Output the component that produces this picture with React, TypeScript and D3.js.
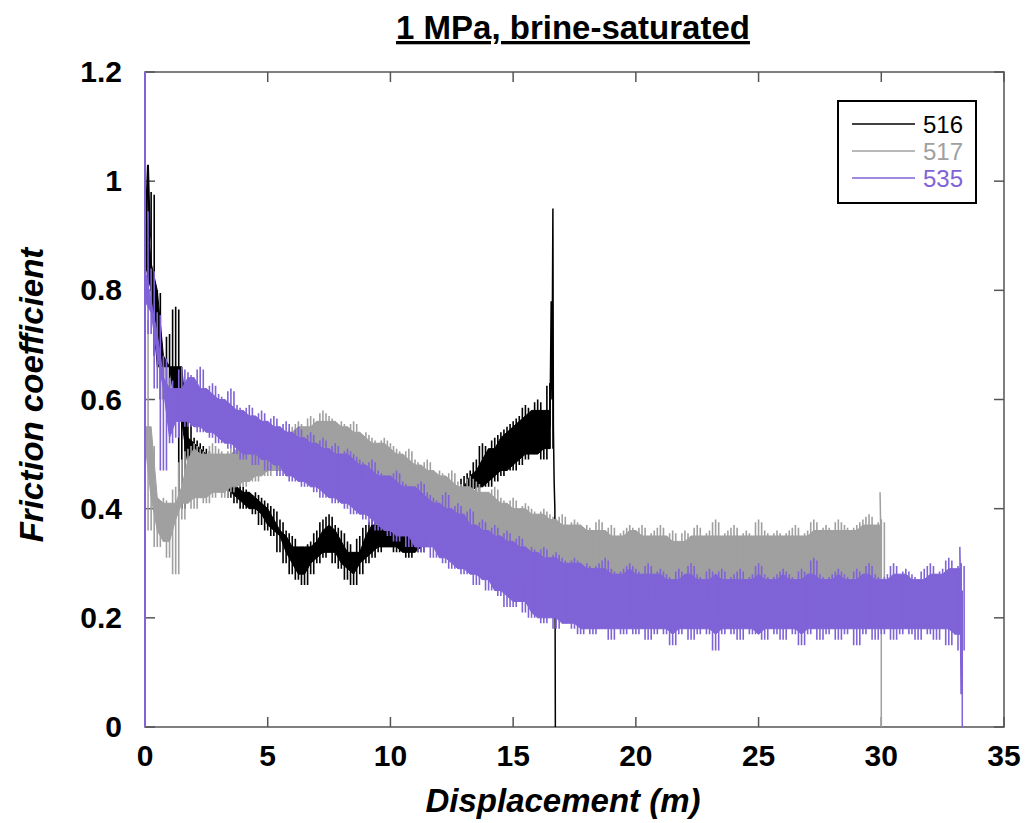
import React from "react";
import * as d3 from "d3";

// Sampling grid step (m) for the envelope arrays below
const STEP = 0.25;

const xTicks = [0, 5, 10, 15, 20, 25, 30, 35];
const yTicks = [0, 0.2, 0.4, 0.6, 0.8, 1, 1.2];
const yTickLabels = ["0", "0.2", "0.4", "0.6", "0.8", "1", "1.2"];

// ---- Sample 516 (black): upper / lower envelope every 0.25 m, 0 .. 16.5 m
const s516Hi = [
  0.97, 0.98, 0.8, 0.66, 0.72, 0.77, 0.58, 0.56,
  0.53, 0.52, 0.51, 0.5, 0.47, 0.46, 0.45, 0.45,
  0.44, 0.43, 0.43, 0.42, 0.41, 0.4, 0.38, 0.36,
  0.35, 0.33, 0.33, 0.34, 0.36, 0.38, 0.39, 0.37,
  0.36, 0.34, 0.32, 0.35, 0.37, 0.38, 0.38, 0.37,
  0.37, 0.36, 0.35, 0.35, 0.35, 0.36, 0.36, 0.37,
  0.38, 0.4, 0.42, 0.44, 0.46, 0.47, 0.49, 0.52,
  0.51, 0.53, 0.54, 0.55, 0.56, 0.57, 0.59, 0.58,
  0.6, 0.58, 0.63,
];
const s516Lo = [
  0.85, 0.8, 0.68, 0.6, 0.62, 0.66, 0.4, 0.48,
  0.46, 0.47, 0.47, 0.46, 0.44, 0.43, 0.42, 0.41,
  0.4, 0.4, 0.39, 0.37, 0.36, 0.35, 0.32, 0.3,
  0.28, 0.27, 0.26, 0.28, 0.3, 0.31, 0.32, 0.3,
  0.29, 0.27, 0.26, 0.28, 0.3, 0.31, 0.32, 0.33,
  0.33, 0.32, 0.32, 0.31, 0.32, 0.32, 0.33, 0.34,
  0.35, 0.36, 0.38, 0.4, 0.41, 0.42, 0.43, 0.44,
  0.44, 0.45, 0.46, 0.47, 0.47, 0.48, 0.49, 0.5,
  0.5, 0.49, 0.51,
];
const s516HeadX = [0.0, 0.12, 0.2];
const s516HeadY = [0.88, 1.03, 0.9];
const s516TailX = [16.5, 16.55, 16.58, 16.62, 16.64, 16.67, 16.7, 16.72];
const s516TailY = [0.55, 0.78, 0.6, 0.95, 0.55, 0.45, 0.4, 0.0];

// ---- Sample 517 (grey): 0 .. 30 m
const s517Hi = [
  0.75, 0.52, 0.42, 0.42, 0.41, 0.44, 0.49, 0.51,
  0.52, 0.51, 0.5, 0.52, 0.51, 0.5, 0.51, 0.52,
  0.51, 0.52, 0.53, 0.52, 0.54, 0.53, 0.55, 0.54,
  0.55, 0.56, 0.55, 0.57, 0.56, 0.58, 0.57, 0.56,
  0.56, 0.55, 0.56, 0.54, 0.54, 0.53, 0.52, 0.53,
  0.52, 0.51, 0.5, 0.51, 0.49, 0.48, 0.49, 0.47,
  0.47, 0.46, 0.47, 0.45, 0.44, 0.46, 0.45, 0.43,
  0.43, 0.44, 0.42, 0.41, 0.42, 0.4, 0.41, 0.4,
  0.39, 0.4, 0.39, 0.38, 0.39, 0.37, 0.38, 0.37,
  0.37, 0.36, 0.38, 0.36, 0.37, 0.35, 0.36, 0.37,
  0.36, 0.37, 0.35, 0.36, 0.37, 0.35, 0.36, 0.34,
  0.36, 0.35, 0.37, 0.35, 0.36, 0.38, 0.35, 0.36,
  0.37, 0.35, 0.36, 0.35, 0.38, 0.36, 0.35, 0.36,
  0.35, 0.36, 0.37, 0.35, 0.36, 0.38, 0.36, 0.37,
  0.36, 0.38, 0.37, 0.36, 0.37, 0.38, 0.39, 0.37,
  0.38,
];
const s517Lo = [
  0.55, 0.36, 0.33, 0.34, 0.31, 0.28, 0.38, 0.41,
  0.4, 0.42, 0.41, 0.42, 0.43, 0.42, 0.43, 0.44,
  0.44, 0.45, 0.45, 0.46, 0.46, 0.47, 0.47, 0.47,
  0.47, 0.48, 0.48, 0.48, 0.47, 0.48, 0.47, 0.47,
  0.46, 0.46, 0.45, 0.45, 0.44, 0.44, 0.43, 0.42,
  0.42, 0.41, 0.4, 0.4, 0.39, 0.38, 0.38, 0.37,
  0.36, 0.36, 0.35, 0.35, 0.34, 0.33, 0.33, 0.33,
  0.32, 0.32, 0.31, 0.31, 0.31, 0.3, 0.3, 0.3,
  0.29, 0.3, 0.29, 0.28, 0.29, 0.28, 0.28, 0.27,
  0.28, 0.27, 0.27, 0.28, 0.27, 0.26, 0.27, 0.27,
  0.27, 0.26, 0.27, 0.27, 0.26, 0.27, 0.26, 0.27,
  0.26, 0.27, 0.26, 0.27, 0.25, 0.27, 0.26, 0.26,
  0.27, 0.26, 0.26, 0.27, 0.26, 0.25, 0.27, 0.26,
  0.26, 0.27, 0.26, 0.26, 0.27, 0.26, 0.25, 0.27,
  0.26, 0.27, 0.26, 0.27, 0.26, 0.27, 0.26, 0.27,
  0.27,
];
const s517HeadX = [0.0];
const s517HeadY = [0.75];
const s517TailX = [30.0, 29.95, 30.0, 30.0];
const s517TailY = [0.3, 0.43, 0.3, 0.0];

// ---- Sample 535 (purple): 0 .. 33.25 m
const s535Hi = [
  0.95, 0.84, 0.76, 0.68, 0.64, 0.62, 0.66, 0.65,
  0.64, 0.66, 0.62, 0.63, 0.61, 0.6, 0.62, 0.59,
  0.58, 0.59, 0.57, 0.58, 0.56, 0.57, 0.55, 0.56,
  0.54, 0.55, 0.53, 0.54, 0.52, 0.53, 0.51, 0.52,
  0.5, 0.51, 0.5, 0.49, 0.48, 0.49, 0.47, 0.46,
  0.46, 0.47, 0.45, 0.44, 0.44, 0.45, 0.43, 0.42,
  0.41, 0.43, 0.4, 0.41, 0.39, 0.4, 0.37, 0.38,
  0.36, 0.37, 0.35, 0.36, 0.34, 0.35, 0.33, 0.33,
  0.32, 0.33, 0.31, 0.32, 0.31, 0.3, 0.31, 0.3,
  0.3, 0.29, 0.3, 0.31, 0.29, 0.28, 0.29, 0.3,
  0.29, 0.28, 0.3, 0.28, 0.29, 0.28, 0.27, 0.29,
  0.28, 0.3, 0.28, 0.27, 0.29, 0.28, 0.29, 0.27,
  0.28, 0.29, 0.27, 0.28, 0.3, 0.28, 0.27, 0.28,
  0.29, 0.28, 0.27, 0.29, 0.28, 0.31, 0.28, 0.27,
  0.28, 0.29, 0.28, 0.27, 0.29, 0.28, 0.3, 0.28,
  0.27, 0.28, 0.3, 0.28, 0.29, 0.28, 0.27, 0.29,
  0.3, 0.28, 0.29, 0.31, 0.29, 0.3,
];
const s535Lo = [
  0.78, 0.72, 0.62, 0.47, 0.52, 0.53, 0.56, 0.55,
  0.55, 0.54, 0.54, 0.53, 0.52, 0.52, 0.51, 0.5,
  0.49, 0.5, 0.48, 0.49, 0.47, 0.48, 0.46, 0.46,
  0.45, 0.45, 0.44, 0.44, 0.43, 0.42, 0.42, 0.41,
  0.41, 0.4, 0.39, 0.39, 0.38, 0.37, 0.36, 0.36,
  0.35, 0.34, 0.35, 0.33, 0.33, 0.32, 0.33, 0.31,
  0.31, 0.3, 0.29, 0.29, 0.28, 0.28, 0.26, 0.27,
  0.25, 0.25, 0.24, 0.22, 0.22, 0.23, 0.21, 0.2,
  0.2, 0.19, 0.2, 0.18, 0.19, 0.19, 0.18, 0.17,
  0.18, 0.17, 0.18, 0.18, 0.16, 0.18, 0.17, 0.18,
  0.17, 0.18, 0.16, 0.17, 0.18, 0.17, 0.15, 0.17,
  0.18, 0.16, 0.17, 0.18, 0.17, 0.14, 0.17, 0.18,
  0.17, 0.16, 0.18, 0.17, 0.17, 0.16, 0.18, 0.17,
  0.16, 0.18, 0.17, 0.15, 0.17, 0.18, 0.16, 0.17,
  0.18, 0.16, 0.17, 0.18, 0.15, 0.17, 0.18, 0.16,
  0.17, 0.18, 0.16, 0.17, 0.18, 0.17, 0.16, 0.18,
  0.17, 0.16, 0.18, 0.15, 0.17, 0.14,
];
const s535HeadX = [0.0, 0.0, 0.0];
const s535HeadY = [0.0, 1.2, 0.9];
const s535TailX = [33.25, 33.2, 33.25, 33.3, 33.3];
const s535TailY = [0.22, 0.33, 0.06, 0.25, 0.0];

const seriesNames = ["516", "517", "535"];
const seriesColors = ["#000000", "#a0a0a0", "#7f63d7"];

const W = 1026;
const H = 823;
const PL = 145, PR = 1004, PT = 72, PB = 727;
const FONT = "'Liberation Sans', Arial, sans-serif";

type Series = {
  hi: number[]; lo: number[];
  headX: number[]; headY: number[];
  tailX: number[]; tailY: number[];
  color: string; name: string;
};

const series: Series[] = [
  { hi: s516Hi, lo: s516Lo, headX: s516HeadX, headY: s516HeadY, tailX: s516TailX, tailY: s516TailY, color: seriesColors[0], name: seriesNames[0] },
  { hi: s517Hi, lo: s517Lo, headX: s517HeadX, headY: s517HeadY, tailX: s517TailX, tailY: s517TailY, color: seriesColors[1], name: seriesNames[1] },
  { hi: s535Hi, lo: s535Lo, headX: s535HeadX, headY: s535HeadY, tailX: s535TailX, tailY: s535TailY, color: seriesColors[2], name: seriesNames[2] },
];

export default function App() {
  const x = d3.scaleLinear().domain([0, 35]).range([PL, PR]);
  const y = d3.scaleLinear().domain([0, 1.2]).range([PB, PT]);

  const area = d3
    .area<[number, number, number]>()
    .x((d) => x(d[0]))
    .y0((d) => y(d[1]))
    .y1((d) => y(d[2]));
  const line = d3
    .line<[number, number]>()
    .x((d) => x(d[0]))
    .y((d) => y(d[1]));

  const paths = series.map((s) => {
    const n = s.hi.length;
    // solid body: the band that every neighbouring sample covers
    const body: [number, number, number][] = s.hi.map((h, i) => {
      const a = Math.max(0, i - 1), b = Math.min(n - 1, i + 1);
      const lo = Math.max(s.lo[a], s.lo[i], s.lo[b]);
      const hi = Math.min(s.hi[a], h, s.hi[b]);
      return [i * STEP, Math.min(lo, hi), Math.max(lo, hi)];
    });
    // needles: each sample's full excursion, drawn as a thin vertical stroke
    let needles = "";
    s.hi.forEach((h, i) => {
      const xi = x(i * STEP);
      needles += `M${xi},${y(s.lo[i])}V${y(h)}`;
      const xm = x(i * STEP + STEP / 2);
      const j = Math.min(n - 1, i + 1);
      needles += `M${xm},${y(Math.min(s.lo[i], s.lo[j]) )}V${y(Math.max(h, s.hi[j]) - 0.005)}`;
    });
    const head: [number, number][] = s.headX.map((hx, i) => [hx, s.headY[i]]);
    head.push([0, s.lo[0]]);
    const tail: [number, number][] = [[(n - 1) * STEP, s.hi[n - 1]]];
    s.tailX.forEach((tx, i) => tail.push([tx, s.tailY[i]]));
    return {
      body: area(body) || "",
      needles,
      head: line(head) || "",
      tail: line(tail) || "",
      color: s.color,
    };
  });

  const axisColor = "#555";
  const tickLen = 10;

  return (
    <svg
      width={W}
      height={H}
      style={{ position: "absolute", left: 0, top: 0, background: "#fff" }}
      fontFamily={FONT}
    >
      <rect x={0} y={0} width={W} height={H} fill="#fff" />
      {/* title */}
      <text
        x={573}
        y={39}
        textAnchor="middle"
        fontSize={33}
        fontWeight="bold"
        style={{ textDecoration: "underline" }}
      >
        1 MPa, brine-saturated
      </text>

      {/* frame */}
      <rect x={PL} y={PT} width={PR - PL} height={PB - PT} fill="none" stroke={axisColor} strokeWidth={1.5} />
      {xTicks.map((t) => (
        <g key={"xt" + t}>
          <line x1={x(t)} x2={x(t)} y1={PB} y2={PB - tickLen} stroke={axisColor} strokeWidth={1.5} />
          <line x1={x(t)} x2={x(t)} y1={PT} y2={PT + tickLen} stroke={axisColor} strokeWidth={1.5} />
          <text x={x(t)} y={766} textAnchor="middle" fontSize={30} fontWeight="bold">
            {t}
          </text>
        </g>
      ))}
      {yTicks.map((t, i) => (
        <g key={"yt" + t}>
          <line x1={PL} x2={PL + tickLen} y1={y(t)} y2={y(t)} stroke={axisColor} strokeWidth={1.5} />
          <line x1={PR} x2={PR - tickLen} y1={y(t)} y2={y(t)} stroke={axisColor} strokeWidth={1.5} />
          <text x={122} y={y(t) + 10} textAnchor="end" fontSize={30} fontWeight="bold">
            {yTickLabels[i]}
          </text>
        </g>
      ))}

      {/* data */}
      {paths.map((p, i) => (
        <g key={"s" + i}>
          <path d={p.body} fill={p.color} stroke={p.color} strokeWidth={1} />
          <path d={p.needles} fill="none" stroke={p.color} strokeWidth={1.6} />
          <path d={p.head} fill="none" stroke={p.color} strokeWidth={2} />
          <path d={p.tail} fill="none" stroke={p.color} strokeWidth={1.5} />
        </g>
      ))}

      {/* axis titles */}
      <text x={563} y={812} textAnchor="middle" fontSize={33} fontWeight="bold" fontStyle="italic">
        Displacement (m)
      </text>
      <text
        transform={`translate(43, 395) rotate(-90)`}
        textAnchor="middle"
        fontSize={33}
        fontWeight="bold"
        fontStyle="italic"
      >
        Friction coefficient
      </text>

      {/* legend */}
      <rect x={838} y={101} width={138} height={102} fill="#fff" stroke="#000" strokeWidth={2} />
      {series.map((s, i) => (
        <g key={"lg" + i}>
          <line x1={852} x2={915} y1={124 + i * 27} y2={124 + i * 27} stroke={s.color} strokeWidth={1.5} />
          <text x={923} y={133 + i * 27} fontSize={24} fill={s.color}>
            {s.name}
          </text>
        </g>
      ))}
    </svg>
  );
}
